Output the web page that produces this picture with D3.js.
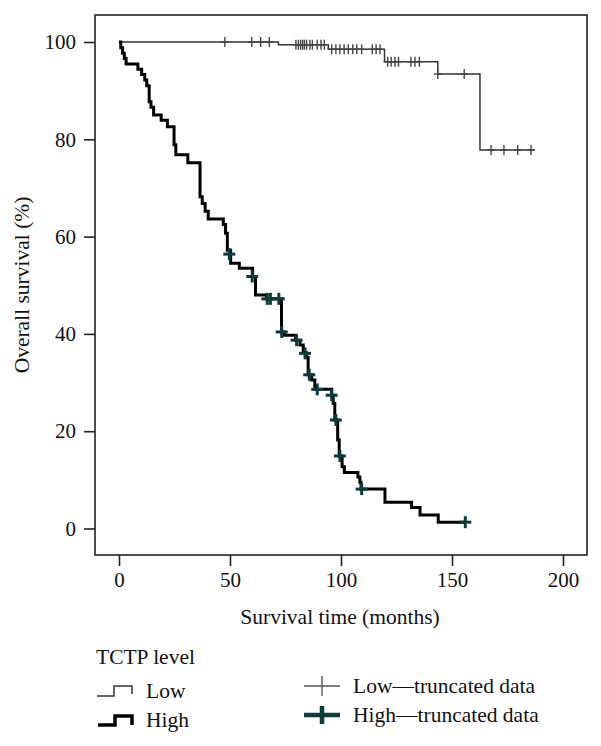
<!DOCTYPE html>
<html>
<head>
<meta charset="utf-8">
<script src="https://cdn.jsdelivr.net/npm/d3@7"></script>
<style>
  html, body { margin: 0; padding: 0; background: #fff; }
  svg { display: block; font-family: "Liberation Serif", "Times New Roman", serif; }
</style>
</head>
<body>
<svg id="chart" width="601" height="746"></svg>
<script>
// ---------- data ----------
const xTicks = [0, 50, 100, 150, 200];
const yTicks = [0, 20, 40, 60, 80, 100];

// Low TCTP group: step times and survival after each step
const lowTimes = [0, 71.8, 94.3, 119.6, 143.6, 162.6];
const lowSurv  = [100, 99.45, 98.5, 95.95, 93.4, 77.8];
const lowEnd = 187.4;
const lowCensorTimes = [47.7, 59.8, 63.8, 67.7,
  79.7, 80.8, 81.8, 82.7, 83.5, 84.5, 86.0, 87.1, 89.3, 91.0, 92.5,
  95.8, 97.7, 99.5, 101.4, 103.3, 105.3, 107.1, 109.3, 114.1, 115.8, 117.6,
  121.0, 122.6, 124.3, 125.9, 131.5, 133.3, 135.3,
  143.6, 155.5, 167.6, 173.4, 179.6, 185.6];

// High TCTP group
const highTimes = [0, 0.8, 1.6, 2.4, 3.2, 8.5, 10.2, 11.6, 12.5, 13.6, 14.4, 15.6, 19.0, 21.8,
  24.8, 25.6, 31.0, 36.5, 37.5, 38.8, 40.2, 47.0, 48.0, 48.8, 50.3, 54.2, 60.2, 61.5, 66.5,
  73.2, 74.5, 79.5, 81.5, 83.0, 84.3, 85.2, 86.8, 88.2, 95.8, 96.5, 97.2, 98.5, 99.2, 100.5,
  101.5, 107.6, 108.5, 109.0, 119.8, 131.8, 135.6, 143.8];
const highSurv  = [100, 98.8, 97.7, 96.6, 95.5, 94.4, 93.3, 92.2, 91.0, 87.7, 86.6, 85.0, 83.9, 82.6,
  78.9, 76.8, 75.2, 68.2, 66.8, 65.2, 63.6, 62.5, 60.7, 57.2, 54.5, 53.5, 51.8, 48.0, 47.2,
  40.4, 39.7, 38.7, 37.7, 36.2, 35.2, 31.6, 30.5, 28.6, 27.4, 25.7, 22.3, 18.2, 14.9, 12.7,
  11.5, 10.6, 9.5, 8.1, 5.4, 4.3, 2.8, 1.3];
const highEnd = 156;
const highCensorTimes = [49.7, 60.0, 66.8, 68.2, 72.0, 73.3, 80.0, 83.8, 85.7, 89.3, 95.8, 97.7, 99.5, 109.3, 156];
const highCensorSurv  = [56.4, 51.8, 47.2, 47.2, 47.2, 40.4, 38.7, 36.0, 31.6, 28.6, 27.4, 22.3, 14.9, 8.1, 1.3];

// ---------- layout ----------
const svg = d3.select("#chart");
const frame = {left: 95, right: 587, top: 15, bottom: 555};
const x = d3.scaleLinear().domain([0, 200]).range([119, 563]);
const y = d3.scaleLinear().domain([0, 100]).range([528.5, 42]);
const FONT = 21;

// frame
svg.append("rect")
  .attr("x", frame.left).attr("y", frame.top)
  .attr("width", frame.right - frame.left).attr("height", frame.bottom - frame.top)
  .attr("fill", "none").attr("stroke", "#222").attr("stroke-width", 1.6);

// axes
const xAxis = d3.axisBottom(x).tickValues(xTicks).tickSize(11).tickPadding(6).tickFormat(d3.format("d"));
const gx = svg.append("g").attr("transform", `translate(0,${frame.bottom})`).call(xAxis);
gx.select(".domain").remove();
gx.selectAll("line").attr("stroke", "#222").attr("stroke-width", 1.6);
gx.selectAll("text").attr("font-size", FONT).attr("font-family", "Liberation Serif").attr("fill", "#111");

const yAxis = d3.axisLeft(y).tickValues(yTicks).tickSize(11).tickPadding(8).tickFormat(d3.format("d"));
const gy = svg.append("g").attr("transform", `translate(${frame.left},0)`).call(yAxis);
gy.select(".domain").remove();
gy.selectAll("line").attr("stroke", "#222").attr("stroke-width", 1.6);
gy.selectAll("text").attr("font-size", FONT).attr("font-family", "Liberation Serif").attr("fill", "#111");

// axis titles
svg.append("text").attr("x", 340).attr("y", 624).attr("text-anchor", "middle")
  .attr("font-size", FONT + 0.5).attr("fill", "#111").text("Survival time (months)");
svg.append("text").attr("transform", "translate(29,285) rotate(-90)").attr("text-anchor", "middle")
  .attr("font-size", FONT + 0.5).attr("fill", "#111").text("Overall survival (%)");

// step paths
function stepPoints(times, surv, end) {
  const pts = times.map((t, i) => [t, surv[i]]);
  pts.push([end, surv[surv.length - 1]]);
  return pts;
}
const line = d3.line().x(d => x(d[0])).y(d => y(d[1])).curve(d3.curveStepAfter);

svg.append("path").datum(stepPoints(lowTimes, lowSurv, lowEnd))
  .attr("d", line).attr("fill", "none").attr("stroke", "#333").attr("stroke-width", 1.5);

svg.append("path").datum(stepPoints(highTimes, highSurv, highEnd))
  .attr("d", line).attr("fill", "none").attr("stroke", "#000").attr("stroke-width", 3)
  .attr("stroke-linejoin", "miter");

// low censor marks (survival looked up from the step function)
function survAt(times, surv, t) {
  let s = surv[0];
  for (let i = 0; i < times.length; i++) if (times[i] <= t) s = surv[i];
  return s;
}
const lowC = svg.append("g").attr("stroke", "#444").attr("stroke-width", 1.4);
lowCensorTimes.forEach(t => {
  const cx = x(t), cy = y(survAt(lowTimes, lowSurv, t));
  lowC.append("line").attr("x1", cx).attr("x2", cx).attr("y1", cy - 5).attr("y2", cy + 5);
  lowC.append("line").attr("x1", cx - 4).attr("x2", cx + 4).attr("y1", cy).attr("y2", cy);
});

// high censor marks
const highC = svg.append("g").attr("stroke", "#0e3c3c").attr("stroke-width", 3);
highCensorTimes.forEach((t, i) => {
  const cx = x(t), cy = y(highCensorSurv[i]);
  highC.append("line").attr("x1", cx).attr("x2", cx).attr("y1", cy - 6).attr("y2", cy + 6);
  highC.append("line").attr("x1", cx - 6).attr("x2", cx + 6).attr("y1", cy).attr("y2", cy);
});

// ---------- legend ----------
const leg = svg.append("g").attr("font-size", FONT + 0.5).attr("fill", "#111");
leg.append("text").attr("x", 96).attr("y", 657).attr("dominant-baseline", "central").text("TCTP level");
leg.append("text").attr("x", 146).attr("y", 691).attr("dominant-baseline", "central").text("Low");
leg.append("text").attr("x", 146).attr("y", 720).attr("dominant-baseline", "central").text("High");

leg.append("path").attr("d", "M97,696 H114 V686 H132 V694")
  .attr("fill", "none").attr("stroke", "#333").attr("stroke-width", 1.5);
leg.append("path").attr("d", "M98,725 H115 V716 H132 V725")
  .attr("fill", "none").attr("stroke", "#000").attr("stroke-width", 3.5);

leg.append("line").attr("x1", 304).attr("x2", 340).attr("y1", 686).attr("y2", 686).attr("stroke", "#555").attr("stroke-width", 1.4);
leg.append("line").attr("x1", 322).attr("x2", 322).attr("y1", 676).attr("y2", 696).attr("stroke", "#555").attr("stroke-width", 1.4);
leg.append("line").attr("x1", 304).attr("x2", 340).attr("y1", 715).attr("y2", 715).attr("stroke", "#0e3c3c").attr("stroke-width", 4.5);
leg.append("line").attr("x1", 322).attr("x2", 322).attr("y1", 706).attr("y2", 724).attr("stroke", "#0e3c3c").attr("stroke-width", 4.5);

leg.append("text").attr("x", 353).attr("y", 686).attr("dominant-baseline", "central").text("Low\u2014truncated data");
leg.append("text").attr("x", 353).attr("y", 715).attr("dominant-baseline", "central").text("High\u2014truncated data");
</script>
</body>
</html>
